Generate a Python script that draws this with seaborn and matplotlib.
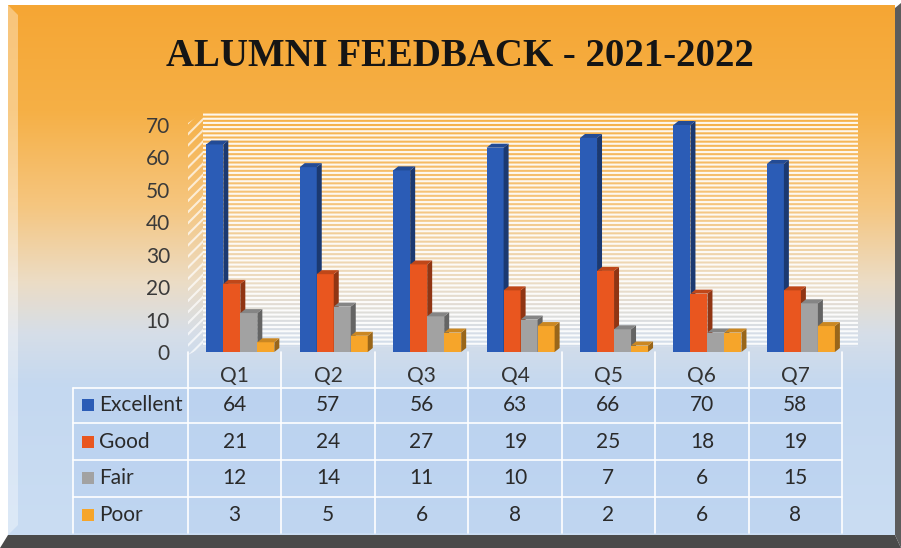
import numpy as np
import pandas as pd
import seaborn as sns
from matplotlib import pyplot as plt
from matplotlib.patches import Polygon, Rectangle
from matplotlib.colors import to_rgb

# data
questions = ['Q1', 'Q2', 'Q3', 'Q4', 'Q5', 'Q6', 'Q7']
ratings = ['Excellent', 'Good', 'Fair', 'Poor']
excellent = [64, 57, 56, 63, 66, 70, 58]
good = [21, 24, 27, 19, 25, 18, 19]
fair = [12, 14, 11, 10, 7, 6, 15]
poor = [3, 5, 6, 8, 2, 6, 8]
yticks = [0, 10, 20, 30, 40, 50, 60, 70]
title = 'ALUMNI FEEDBACK - 2021-2022'

colors = ['#2b5cb6', '#e9561f', '#a2a2a2', '#f6a52a']

df = pd.DataFrame({
    'question': questions * 4,
    'rating': np.repeat(ratings, len(questions)),
    'value': excellent + good + fair + poor,
})
table_rows = [excellent, good, fair, poor]

sns.set_style('white')
plt.rcParams['font.family'] = ['Lato', 'DejaVu Sans']
plt.rcParams['hatch.linewidth'] = 1.5

W, H = 901, 548
fig = plt.figure(figsize=(W / 100, H / 100), dpi=100)
fig.patch.set_facecolor('white')

# background layer in pixel coords
bg = fig.add_axes([0, 0, 1, 1], zorder=0)
bg.set_xlim(0, W)
bg.set_ylim(H, 0)
bg.axis('off')

stops = [0.0, 0.2, 0.38, 0.52, 0.62, 0.72, 1.0]
stop_cols = np.array([
    (245, 166, 52), (246, 176, 70), (245, 198, 128), (236, 220, 196),
    (214, 222, 232), (196, 216, 240), (202, 221, 243)]) / 255
t = np.linspace(0, 1, 300)
grad = np.stack([np.interp(t, stops, stop_cols[:, c]) for c in range(3)], axis=-1)
bg.imshow(grad[:, None, :], extent=(8, 895, 535, 5), aspect='auto', zorder=0)

# frame bevels
bg.add_patch(Polygon([(8, 5), (18, 15), (18, 525), (8, 535)], closed=True,
                     facecolor='white', alpha=0.35, lw=0, zorder=1))
bg.add_patch(Polygon([(8, 535), (895, 535), (901, 548), (0, 548)], closed=True,
                     facecolor='#4a4a4a', lw=0, zorder=1))
bg.add_patch(Polygon([(895, 8), (901, 3), (901, 548), (895, 535)], closed=True,
                     facecolor='#5c5c5c', lw=0, zorder=1))

# striped walls
bg.add_patch(Rectangle((203, 113), 655, 234, facecolor='none', edgecolor='white',
                       hatch='----', lw=0, alpha=0.9, zorder=1))
bg.add_patch(Polygon([(188, 123), (203, 113), (203, 347), (188, 355)], closed=True,
                     facecolor='none', edgecolor='white', hatch='///', lw=0,
                     alpha=0.7, zorder=1))

bg.text(460, 57, title, ha='center', va='center', fontsize=28,
        fontweight='bold', family='Liberation Serif', color='#151515')

# bar chart
ax = fig.add_axes([188 / W, (H - 352) / H, 654 / W, 227 / H], zorder=1)
ax.patch.set_alpha(0)
sns.barplot(data=df, x='question', y='value', hue='rating', palette=colors,
            width=0.728, saturation=1, edgecolor='none', legend=False, ax=ax)
ax.set_xlim(-0.56, 6.44)
ax.set_ylim(0, 70)
ax.set_yticks(yticks)
ax.set_xticks([])
ax.set_xlabel('')
ax.set_ylabel('')
ax.tick_params(axis='y', length=0, pad=13, labelsize=15, labelcolor='#3a3a3a')
sns.despine(ax=ax, left=True, bottom=True)

dx = 5 / (654 / 7.0)
dy = 4 / (227 / 70.0)
for k, cont in enumerate(ax.containers):
    for bar in cont:
        x0 = bar.get_x()
        x1 = x0 + bar.get_width()
        h = bar.get_height()
        base = np.array(to_rgb(bar.get_facecolor()))
        bar.set_zorder(3 + k)
        side = Polygon([(x1, 0), (x1 + dx, dy), (x1 + dx, h + dy), (x1, h)],
                       closed=True, facecolor=base * 0.62, lw=0, zorder=3 + k,
                       clip_on=False)
        top = Polygon([(x0, h), (x0 + dx, h + dy), (x1 + dx, h + dy), (x1, h)],
                      closed=True, facecolor=base * 0.82, lw=0, zorder=3 + k,
                      clip_on=False)
        ax.add_patch(side)
        ax.add_patch(top)

# data table
col_edges = np.linspace(188, 842, len(questions) + 1)
col_mid = (col_edges[:-1] + col_edges[1:]) / 2
row_edges = [388, 423, 460, 497, 533]
row_mid = [405, 442, 478, 515]

bg.add_patch(Rectangle((73, 388), 842 - 73, 533 - 388, facecolor='#a8c6ee',
                       alpha=0.3, lw=0, zorder=1))
for y in row_edges[:-1]:
    bg.plot([73, 842], [y, y], color='white', lw=1.2, zorder=2)
bg.plot([73, 73], [388, 533], color='white', lw=1.2, zorder=2)
for x in col_edges:
    bg.plot([x, x], [352, 533], color='white', lw=1.2, zorder=2)

for q, xm in zip(questions, col_mid):
    bg.text(xm, 376, q, ha='center', va='center', fontsize=15, color='#333333')

for name, c, vals, ym in zip(ratings, colors, table_rows, row_mid):
    bg.add_patch(Rectangle((82, ym - 6), 12, 12, facecolor=c, lw=0, zorder=3))
    bg.text(99, ym, name, ha='left', va='center', fontsize=15, color='#2a2a2a')
    for v, xm in zip(vals, col_mid):
        bg.text(xm, ym, str(v), ha='center', va='center', fontsize=15,
                color='#2a2a2a')

plt.savefig('out.png', dpi=100)
